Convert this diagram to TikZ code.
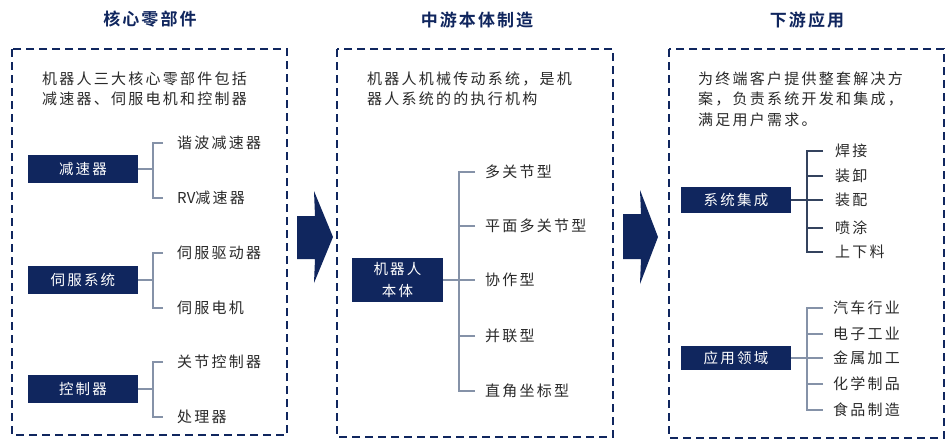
\documentclass[tikz,border=0pt]{standalone}
\usepackage{fontspec}
\newfontfamily\cjk[LetterSpace=15]{Noto Sans CJK SC}
\newfontfamily\cjkb[LetterSpace=12]{Noto Sans CJK SC Bold}
\definecolor{navy}{HTML}{10265E}
\definecolor{txt}{HTML}{2A2A2A}
\definecolor{brk}{HTML}{8592A8}
\definecolor{brkd}{HTML}{34435E}
\tikzset{
  frame/.style={draw=navy, line width=2pt, dash pattern=on 8pt off 5pt},
  ttl/.style={font=\cjkb\fontsize{17}{20}\selectfont, text=navy, inner sep=0pt},
  desc/.style={font=\cjk\fontsize{15}{20.5}\selectfont, text=txt, align=left, inner sep=0pt, anchor=west},
  darkbox/.style={fill=navy, text=white, inner sep=0pt, minimum width=110pt, minimum height=28pt, font=\cjk\fontsize{14.5}{22}\selectfont, align=center},
  item/.style={font=\cjk\fontsize{15}{18}\selectfont, text=txt, anchor=west, inner ysep=0pt},
  brline/.style={draw=brk, line width=1.2pt},
  brlined/.style={draw=brkd, line width=1.2pt},
  bigarrow/.style={fill=navy, draw=none}
}
\begin{document}
\begin{tikzpicture}[x=1pt,y=-1pt]
\useasboundingbox[fill=white] (0,0) rectangle (947,442);

% titles
\node[ttl] (t1) at (150,19) {核心零部件};
\node[ttl] (t2) at (477,20) {中游本体制造};
\node[ttl] (t3) at (807,20) {下游应用};

% frames
\draw[frame] (12,49) rectangle (287,435);
\draw[frame] (337,49) rectangle (613,437);
\draw[frame] (669,49) rectangle (944,438);

% arrows
\fill[bigarrow] (297,216) -- (315,216) -- (314,191) -- (333,237) -- (314,283) -- (315,259) -- (297,259) -- cycle;
\fill[bigarrow] (623,214) -- (641,214) -- (640,190) -- (658,237) -- (640,284) -- (641,259) -- (623,259) -- cycle;

% ---------- panel 1 ----------
\node[desc] (d1) at (42,89) {机器人三大核心零部件包括\\减速器、伺服电机和控制器};

\node[darkbox] (b11) at (83,169) {减速器};
\node[darkbox] (b12) at (83,280) {伺服系统};
\node[darkbox] (b13) at (83,389) {控制器};

\node[item, inner xsep=14pt] (i11) at (163,143) {谐波减速器};
\node[item, inner xsep=14pt] (i12) at (163,198) {{\fontspec{Noto Sans CJK SC}RV}减速器};
\node[item, inner xsep=14pt] (i13) at (163,253) {伺服驱动器};
\node[item, inner xsep=14pt] (i14) at (163,308) {伺服电机};
\node[item, inner xsep=14pt] (i15) at (163,362) {关节控制器};
\node[item, inner xsep=14pt] (i16) at (163,417) {处理器};

\coordinate (j11) at (153,169);
\coordinate (j12) at (153,280);
\coordinate (j13) at (153,389);
\draw[brline] (b11.east) -- (j11);
\draw[brline] (i11.west) -| (j11) |- (i12.west);
\draw[brline] (b12.east) -- (j12);
\draw[brline] (i13.west) -| (j12) |- (i14.west);
\draw[brline] (b13.east) -- (j13);
\draw[brline] (i15.west) -| (j13) |- (i16.west);

% ---------- panel 2 ----------
\node[desc] (d2) at (367,89) {机器人机械传动系统，是机\\器人系统的的执行机构};

\node[darkbox, minimum width=91pt, minimum height=44pt] (b21) at (397.5,280) {机器人\\本体};

\node[item, inner xsep=10pt] (i21) at (475,172) {多关节型};
\node[item, inner xsep=10pt] (i22) at (475,226) {平面多关节型};
\node[item, inner xsep=10pt] (i23) at (475,280) {协作型};
\node[item, inner xsep=10pt] (i24) at (475,336) {并联型};
\node[item, inner xsep=10pt] (i25) at (475,391) {直角坐标型};

\coordinate (j21) at (459,280);
\draw[brline] (b21.east) -- (i23.west);
\draw[brline] (i21.west) -| (j21) |- (i25.west);
\draw[brline] (i22.west) -- (i22.west -| j21);
\draw[brline] (i24.west) -- (i24.west -| j21);

% ---------- panel 3 ----------
\node[desc] (d3) at (698,99) {为终端客户提供整套解决方\\案，负责系统开发和集成，\\满足用户需求。};

\node[darkbox, minimum height=26pt] (b31) at (736,200) {系统集成};
\node[darkbox, minimum height=24pt] (b32) at (736,358) {应用领域};

\node[item, inner xsep=12pt] (i31) at (823,151) {焊接};
\node[item, inner xsep=12pt] (i32) at (823,176) {装卸};
\node[item, inner xsep=12pt] (i33) at (823,200) {装配};
\node[item, inner xsep=12pt] (i34) at (823,228) {喷涂};
\node[item, inner xsep=12pt] (i35) at (823,252) {上下料};

\coordinate (j31) at (807,200);
\draw[brlined] (b31.east) -- (i33.west);
\draw[brlined] (i31.west) -| (j31) |- (i35.west);
\draw[brlined] (i32.west) -- (i32.west -| j31);
\draw[brlined] (i34.west) -- (i34.west -| j31);

\node[item, inner xsep=10pt] (i41) at (823,308) {汽车行业};
\node[item, inner xsep=10pt] (i42) at (823,334) {电子工业};
\node[item, inner xsep=10pt] (i43) at (823,358) {金属加工};
\node[item, inner xsep=10pt] (i44) at (823,384) {化学制品};
\node[item, inner xsep=10pt] (i45) at (823,410) {食品制造};

\coordinate (j32) at (807,358);
\draw[brline] (b32.east) -- (i43.west);
\draw[brline] (i41.west) -| (j32) |- (i45.west);
\draw[brline] (i42.west) -- (i42.west -| j32);
\draw[brline] (i44.west) -- (i44.west -| j32);
\end{tikzpicture}
\end{document}
